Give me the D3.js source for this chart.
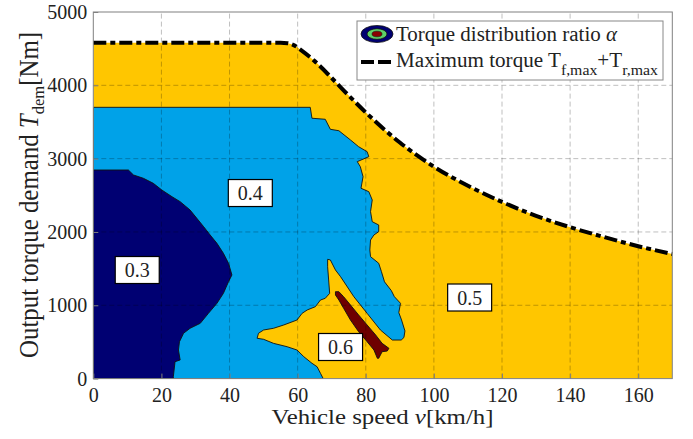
<!DOCTYPE html>
<html>
<head>
<meta charset="utf-8">
<style>
  body { margin: 0; background: #fff; }
  text { font-family: "Liberation Serif", "Times New Roman", serif; fill: #222; }
</style>
</head>
<body>
<script src="https://cdn.jsdelivr.net/npm/d3@7"></script>
<script>
// ---- data ----
var xTicks = [0, 20, 40, 60, 80, 100, 120, 140, 160];
var yTicks = [0, 1000, 2000, 3000, 4000, 5000];

// maximum torque Tf,max + Tr,max  vs speed
var maxSpeed  = [0, 55, 57, 59, 61, 65, 70, 75, 80, 90, 100, 110, 120, 130, 140, 150, 160, 170];
var maxTorque = [4580, 4580, 4575, 4545, 4480, 4330, 4100, 3860, 3630, 3220, 2890, 2630, 2410, 2220, 2065, 1930, 1805, 1700];

// alpha = 0.4 region (drawn over the 0.5 background)
var region04 = [[0, 0], [0, 3700], [63.7, 3700], [64.2, 3551], [68.1, 3537], [69.6, 3400], [72.1, 3381],
  [75.5, 3255], [77.9, 3163], [80.4, 3095], [80.9, 3027], [77.5, 2959], [78.4, 2890], [79.2, 2754],
  [78.6, 2596], [80.9, 2549], [81.9, 2436], [81.4, 2277], [81.9, 2140], [83.8, 2095], [83.8, 2004],
  [82.4, 1959], [81.4, 1890], [81.2, 1754], [81.4, 1663], [83.8, 1573], [84.6, 1458], [85.5, 1320],
  [87.5, 1200], [88.4, 1117], [90.2, 1027], [89.7, 900], [90.5, 800], [91.5, 650], [91.2, 560],
  [90.4, 526], [87.8, 526], [84.3, 663], [80.4, 890], [76.5, 1117], [72.6, 1390], [71.1, 1481],
  [69.6, 1618], [68.8, 1627], [68.8, 1526], [69.1, 1345], [69.4, 1163], [68.1, 1095], [66.7, 1072],
  [65.2, 981], [62.8, 936], [61.3, 890], [59.8, 799], [55.9, 731], [52.9, 686], [50.0, 663],
  [48.5, 618], [48.1, 550], [50.0, 536], [52.9, 481], [56.9, 435], [59.8, 390], [61.8, 299],
  [64.2, 209], [65.7, 162], [66.7, 72], [67.5, 0]];

// alpha = 0.3 region
var region03 = [[0, 0], [0, 2845], [10.3, 2845], [11.8, 2777], [14.7, 2732], [17.6, 2664], [20.1, 2573],
  [23.1, 2481], [25.5, 2413], [28.4, 2300], [30.4, 2186], [32.4, 2072], [34.3, 1959], [36.3, 1845],
  [38.2, 1709], [39.7, 1573], [40.7, 1413], [39.7, 1322], [38.2, 1163], [36.3, 1027], [33.8, 890],
  [31.4, 754], [28.4, 686], [26.5, 618], [25.3, 503], [25.0, 390], [25.5, 254], [24.0, 231],
  [23.5, 26], [23.5, 0]];

// alpha = 0.6 region
var region06 = [[71.1, 1185], [72.1, 1185], [73.5, 1117], [75.5, 1004], [77.9, 868], [80.4, 731],
  [82.9, 595], [84.8, 481], [86.8, 413], [86.3, 376], [84.8, 367], [83.8, 277], [83.4, 277],
  [82.4, 390], [80.4, 503], [77.9, 640], [75.5, 799], [73.5, 959], [72.1, 1072], [71.1, 1140]];

var labelText = ["0.3", "0.4", "0.5", "0.6"];
var labelX = [12.9, 46.1, 110.5, 72.6];
var labelY = [1481, 2531, 1106, 431];

var colors = { c03: "#000072", c04: "#00a2e8", c05: "#ffc600", c06: "#6e0000", mid: "#5fd068" };

// ---- layout ----
var W = 693, H = 439;
var pL = 93.3, pR = 672.3, pT = 12, pB = 378.6;

var svg = d3.select("body").append("svg")
    .attr("width", W)
    .attr("height", H);

var x = d3.scaleLinear().domain([0, 170]).range([pL, pR]);
var y = d3.scaleLinear().domain([0, 5000]).range([pB, pT]);

var maxPts = maxSpeed.map(function (s, i) { return [s, maxTorque[i]]; });

svg.append("clipPath").attr("id", "plotclip")
    .append("rect")
    .attr("x", pL).attr("y", pT)
    .attr("width", pR - pL).attr("height", pB - pT);

var plot = svg.append("g").attr("clip-path", "url(#plotclip)");

// 0.5 background under the max torque curve
var area = d3.area()
    .x(function (d) { return x(d[0]); })
    .y0(y(0))
    .y1(function (d) { return y(d[1]); })
    .curve(d3.curveMonotoneX);

plot.append("path")
    .datum(maxPts)
    .attr("d", area)
    .attr("fill", colors.c05);

var poly = d3.line()
    .x(function (d) { return x(d[0]); })
    .y(function (d) { return y(d[1]); });

function drawRegion(pts, fill) {
    plot.append("path")
        .attr("d", poly(pts) + "Z")
        .attr("fill", fill)
        .attr("stroke", "#111")
        .attr("stroke-width", 0.9)
        .attr("stroke-linejoin", "round");
}
drawRegion(region04, colors.c04);
drawRegion(region03, colors.c03);
drawRegion(region06, colors.c06);

// grid
var grid = svg.append("g");
grid.selectAll("line.gx")
    .data(xTicks.filter(function (t) { return t > 0; }))
    .enter().append("line")
    .attr("x1", function (d) { return x(d); })
    .attr("x2", function (d) { return x(d); })
    .attr("y1", y(0)).attr("y2", y(5000))
    .attr("stroke", "#000").attr("stroke-opacity", 0.25)
    .attr("stroke-width", 1)
    .attr("stroke-dasharray", "5,3");
grid.selectAll("line.gy")
    .data(yTicks.filter(function (t) { return t > 0 && t < 5000; }))
    .enter().append("line")
    .attr("y1", function (d) { return y(d); })
    .attr("y2", function (d) { return y(d); })
    .attr("x1", x(0)).attr("x2", x(170))
    .attr("stroke", "#000").attr("stroke-opacity", 0.25)
    .attr("stroke-width", 1)
    .attr("stroke-dasharray", "5,3");

// max torque line
var mline = d3.line()
    .x(function (d) { return x(d[0]); })
    .y(function (d) { return y(d[1]); })
    .curve(d3.curveMonotoneX);

svg.append("path")
    .datum(maxPts)
    .attr("d", mline)
    .attr("fill", "none")
    .attr("stroke", "#000")
    .attr("stroke-width", 4)
    .attr("stroke-dasharray", "13,4,5,4");

// region labels
var lab = svg.selectAll("g.lab")
    .data(labelText)
    .enter().append("g")
    .attr("transform", function (d, i) { return "translate(" + x(labelX[i]) + "," + y(labelY[i]) + ")"; });
lab.append("rect")
    .attr("x", -22).attr("y", -13.5)
    .attr("width", 44).attr("height", 27)
    .attr("fill", "#fff").attr("stroke", "#000").attr("stroke-width", 1.2);
lab.append("text")
    .attr("text-anchor", "middle")
    .attr("y", 7)
    .style("font-size", "20px")
    .text(function (d) { return d; });

// axes box
svg.append("rect")
    .attr("x", pL).attr("y", pT)
    .attr("width", pR - pL).attr("height", pB - pT)
    .attr("fill", "none").attr("stroke", "#808080").attr("stroke-width", 1);

var xAxis = d3.axisBottom(x).tickValues(xTicks).tickSize(-5).tickPadding(9);
var gx = svg.append("g").attr("transform", "translate(0," + pB + ")").call(xAxis);
gx.select(".domain").remove();
gx.selectAll(".tick line").attr("stroke", "#808080");
gx.selectAll("text").style("font-size", "20px").style("font-family", "Liberation Serif").attr("fill", "#222");

var yAxis = d3.axisLeft(y).tickValues(yTicks).tickFormat(d3.format("d")).tickSize(-5).tickPadding(6);
var gy = svg.append("g").attr("transform", "translate(" + pL + ",0)").call(yAxis);
gy.select(".domain").remove();
gy.selectAll(".tick line").attr("stroke", "#808080");
gy.selectAll("text").style("font-size", "20px").style("font-family", "Liberation Serif").attr("fill", "#222");

// axis titles
var xl = svg.append("text")
    .attr("x", 382.5)
    .attr("y", 424)
    .attr("text-anchor", "middle")
    .attr("textLength", 222)
    .attr("lengthAdjust", "spacingAndGlyphs")
    .style("font-size", "20px");
xl.append("tspan").text("Vehicle speed ");
xl.append("tspan").style("font-style", "italic").text("v");
xl.append("tspan").text("[km/h]");

var yl = svg.append("text")
    .attr("transform", "translate(38,195) rotate(-90) scale(1,1.25)")
    .attr("text-anchor", "middle")
    .attr("textLength", 326)
    .attr("lengthAdjust", "spacingAndGlyphs")
    .style("font-size", "21px");
yl.append("tspan").text("Output torque demand ");
yl.append("tspan").style("font-style", "italic").text("T");
yl.append("tspan").attr("dy", 5).style("font-size", "14px").text("dem");
yl.append("tspan").attr("dy", -5).text("[Nm]");

// legend
var lg = svg.append("g");
lg.append("rect")
    .attr("x", 357).attr("y", 21)
    .attr("width", 306).attr("height", 59)
    .attr("fill", "#fff").attr("stroke", "#888").attr("stroke-width", 1);
lg.append("ellipse").attr("cx", 377).attr("cy", 34).attr("rx", 16).attr("ry", 8.5)
    .attr("fill", colors.c03).attr("stroke", "#111").attr("stroke-width", 0.8);
lg.append("ellipse").attr("cx", 377).attr("cy", 34).attr("rx", 10).attr("ry", 5.3)
    .attr("fill", colors.mid).attr("stroke", "#111").attr("stroke-width", 0.8);
lg.append("ellipse").attr("cx", 377).attr("cy", 34).attr("rx", 5).attr("ry", 2.8)
    .attr("fill", "#8a0000").attr("stroke", "#111").attr("stroke-width", 0.6);
lg.append("line")
    .attr("x1", 361).attr("x2", 393).attr("y1", 62).attr("y2", 62)
    .attr("stroke", "#000").attr("stroke-width", 4).attr("stroke-dasharray", "13,4,13");

var t1 = lg.append("text").attr("x", 396).attr("y", 41).attr("textLength", 221)
    .attr("lengthAdjust", "spacingAndGlyphs").style("font-size", "20px");
t1.append("tspan").text("Torque distribution ratio ");
t1.append("tspan").style("font-style", "italic").text("α");

var t2 = lg.append("text").attr("x", 396).attr("y", 67).attr("textLength", 262)
    .attr("lengthAdjust", "spacingAndGlyphs").style("font-size", "20px");
t2.append("tspan").text("Maximum torque T");
t2.append("tspan").attr("dy", 8).style("font-size", "15px").text("f,max");
t2.append("tspan").attr("dy", -8).text("+T");
t2.append("tspan").attr("dy", 8).style("font-size", "15px").text("r,max");
</script>
</body>
</html>
